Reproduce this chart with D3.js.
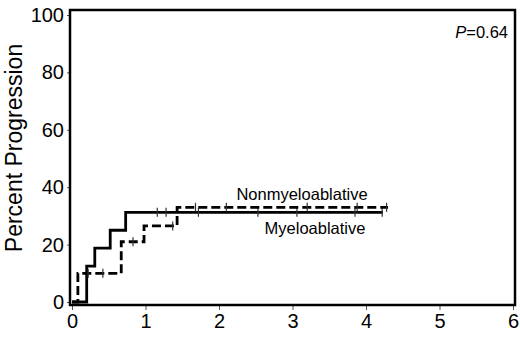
<!DOCTYPE html>
<html>
<head>
<meta charset="utf-8">
<script src="https://cdn.jsdelivr.net/npm/d3@7"></script>
<style>
  body { margin: 0; background: #fff; }
  svg { display: block; font-family: "Liberation Sans", Arial, sans-serif; }
</style>
</head>
<body>
<div id="chart"></div>
<script>
// Kaplan-Meier steps (years, percent)
const myeloTimes = [0, 0.2, 0.31, 0.52, 0.73, 4.23];
const myeloPct = [0, 12.5, 18.75, 25, 31.25, 31.25];
const myeloCensored = [1.16, 1.28, 1.72, 2.53, 3.06, 3.85, 4.22];

const nonmyeloTimes = [0, 0.08, 0.67, 0.98, 1.43, 4.3];
const nonmyeloPct = [0, 10, 21, 26.5, 33, 33];
const nonmyeloCensored = [0.22, 0.42, 0.83, 1.37, 1.68, 2.1, 3.2, 3.88, 4.28];

const xTicks = [0, 1, 2, 3, 4, 5, 6];
const yTicks = [0, 20, 40, 60, 80, 100];

const W = 520, H = 340;
const frame = { left: 70, top: 10, right: 515, bottom: 305 };

const svg = d3.select("#chart").append("svg")
    .attr("width", W)
    .attr("height", H);

const x = d3.scaleLinear().domain([0, 6]).range([72, 513]);
const y = d3.scaleLinear().domain([0, 100]).range([302, 15]);

// axes
svg.append("g")
    .attr("transform", `translate(0,${frame.bottom})`)
    .call(d3.axisBottom(x).tickValues(xTicks).tickSize(5).tickPadding(4).tickFormat(d3.format("d")))
    .call(g => g.select(".domain").remove())
    .call(g => g.selectAll("line").attr("stroke", "#555").attr("stroke-width", 1))
    .call(g => g.selectAll("text").attr("font-size", 20).attr("fill", "#000")
        .attr("font-family", "Liberation Sans, Arial, sans-serif"));

svg.append("g")
    .attr("transform", `translate(${frame.left},0)`)
    .call(d3.axisLeft(y).tickValues(yTicks).tickSize(3).tickPadding(3))
    .call(g => g.select(".domain").remove())
    .call(g => g.selectAll("line").attr("stroke", "#555").attr("stroke-width", 1))
    .call(g => g.selectAll("text").attr("font-size", 20).attr("fill", "#000")
        .attr("font-family", "Liberation Sans, Arial, sans-serif"));

svg.append("rect")
    .attr("x", frame.left)
    .attr("y", frame.top)
    .attr("width", frame.right - frame.left)
    .attr("height", frame.bottom - frame.top)
    .attr("fill", "none")
    .attr("stroke", "#000")
    .attr("stroke-width", 2.5);

svg.append("text")
    .attr("transform", `translate(22,148) rotate(-90)`)
    .attr("text-anchor", "middle")
    .attr("font-size", 23)
    .text("Percent Progression");

const line = d3.line()
    .curve(d3.curveStepAfter)
    .x(d => x(d[0]))
    .y(d => y(d[1]));

function stepAt(times, pct, t) {
    let v = pct[0];
    times.forEach((tt, i) => { if (tt <= t) v = pct[i]; });
    return v;
}

function drawCurve(times, pct, censored, dash) {
    const pts = times.map((t, i) => [t, pct[i]]);
    svg.append("path")
        .attr("fill", "none")
        .attr("stroke", "#000")
        .attr("stroke-width", 2.8)
        .attr("stroke-dasharray", dash)
        .attr("d", line(pts));

    svg.append("g")
        .selectAll("line")
        .data(censored)
        .join("line")
        .attr("x1", d => x(d))
        .attr("x2", d => x(d))
        .attr("y1", d => y(stepAt(times, pct, d)) - 4.5)
        .attr("y2", d => y(stepAt(times, pct, d)) + 4.5)
        .attr("stroke", "#333")
        .attr("stroke-width", 1.2);
}

drawCurve(myeloTimes, myeloPct, myeloCensored, null);
drawCurve(nonmyeloTimes, nonmyeloPct, nonmyeloCensored, "9,4");

svg.append("text")
    .attr("x", 302)
    .attr("y", 200)
    .attr("text-anchor", "middle")
    .attr("font-size", 16.5)
    .text("Nonmyeloablative");

svg.append("text")
    .attr("x", 315)
    .attr("y", 234)
    .attr("text-anchor", "middle")
    .attr("font-size", 16.5)
    .text("Myeloablative");

const pLabel = svg.append("text")
    .attr("x", 508)
    .attr("y", 38)
    .attr("text-anchor", "end")
    .attr("font-size", 16.5);
pLabel.append("tspan").attr("font-style", "italic").text("P");
pLabel.append("tspan").text("=0.64");
</script>
</body>
</html>
